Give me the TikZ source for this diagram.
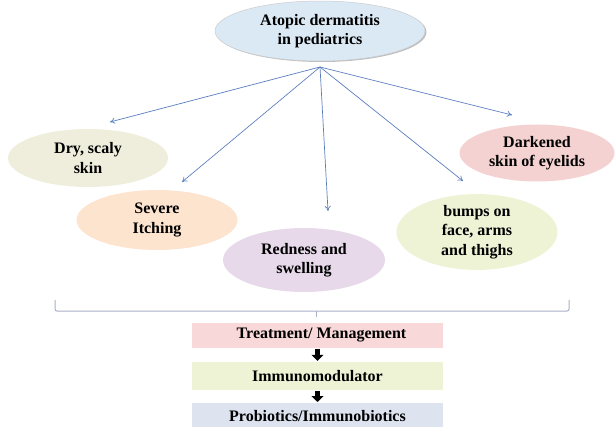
\documentclass[tikz,border=0pt]{standalone}
\usepackage{fontspec}
\setmainfont{Liberation Serif}
\usetikzlibrary{shapes.geometric,arrows.meta}
\definecolor{ctop}{HTML}{DBE9F5}
\definecolor{cdry}{HTML}{EFEEDD}
\definecolor{csev}{HTML}{FCE4CF}
\definecolor{cred}{HTML}{E7D9EA}
\definecolor{cdark}{HTML}{F5D2D2}
\definecolor{cbump}{HTML}{EEF3D6}
\definecolor{ctreat}{HTML}{F8D8D8}
\definecolor{cimm}{HTML}{EEF3D5}
\definecolor{cpro}{HTML}{DDE3EF}
\definecolor{carrow}{HTML}{5A7DBE}
\definecolor{cbrace}{HTML}{A9AFC4}
\tikzset{
  ell/.style={ellipse, inner sep=0pt, align=center, font=\fontsize{16}{19.5}\selectfont\bfseries},
  bar/.style={rectangle, inner sep=0pt, minimum width=251pt, font=\fontsize{16}{18}\selectfont\bfseries},
  thin arrow/.style={draw=carrow, line width=0.7pt, -{To[length=5pt,width=6pt]}},
  block arrow/.style={draw=black, line width=4.2pt, -{Triangle[length=6pt,width=12pt]}},
}
\begin{document}
\begin{tikzpicture}[x=1pt,y=-1pt]
\useasboundingbox (0,0) rectangle (615,427);
% top
\node[ell, fill=black!25, minimum width=210pt, minimum height=60pt] at (321.5,32) {};
\node[ell, fill=ctop, draw=white!80!black, line width=0.5pt, minimum width=210pt, minimum height=60pt] (top) at (320,31) {Atopic dermatitis\\in pediatrics};
\coordinate (src) at (320,67);
% symptoms
\node[ell, fill=cdry, minimum width=160pt, minimum height=58pt] (dry) at (88,158) {Dry, scaly\\skin};
\node[ell, fill=csev, minimum width=161pt, minimum height=60pt] (sev) at (157,220) {Severe\\Itching};
\node[ell, fill=cred, minimum width=162pt, minimum height=64pt] (red) at (304,260) {Redness and\\swelling};
\node[ell, fill=cdark, minimum width=155pt, minimum height=57pt] (dark) at (537,153) {Darkened\\skin of eyelids};
\node[ell, fill=cbump, minimum width=161pt, minimum height=70pt] (bump) at (477,232) {bumps on\\face, arms\\and thighs};
% arrows
\coordinate (t1) at (110,122);
\coordinate (t2) at (182,182);
\coordinate (t3) at (328,211);
\coordinate (t4) at (463,181);
\coordinate (t5) at (512,115);
\draw[thin arrow] (src) -- (t1);
\draw[thin arrow] (src) -- (t2);
\draw[thin arrow] (src) -- (t3);
\draw[thin arrow] (src) -- (t4);
\draw[thin arrow] (src) -- (t5);
% brace
\coordinate (bl) at (55,300);
\coordinate (br) at (569,300);
\coordinate (bm) at (316,311);
\coordinate (bt) at (316,317);
\draw[cbrace, line width=1pt, rounded corners=2pt] (bl) -- (55,311) -- (569,311) -- (br);
\draw[cbrace, line width=0.8pt] (bm) -- (bt);
% boxes
\node[bar, fill=ctreat, minimum height=25pt] (treat) at (317.5,335) {\hspace*{8pt}Treatment/ Management};
\node[bar, fill=cimm, minimum height=28pt] (imm) at (317.5,376) {Immunomodulator};
\node[bar, fill=cpro, minimum height=26pt, anchor=north] (pro) at (317.5,403) {\raisebox{-2pt}{Probiotics/Immunobiotics}};
\draw[block arrow, shorten <=1pt, shorten >=1pt] (treat.south) -- (imm.north);
\draw[block arrow, shorten <=1pt, shorten >=1pt] (imm.south) -- (pro.north);
\end{tikzpicture}
\end{document}
